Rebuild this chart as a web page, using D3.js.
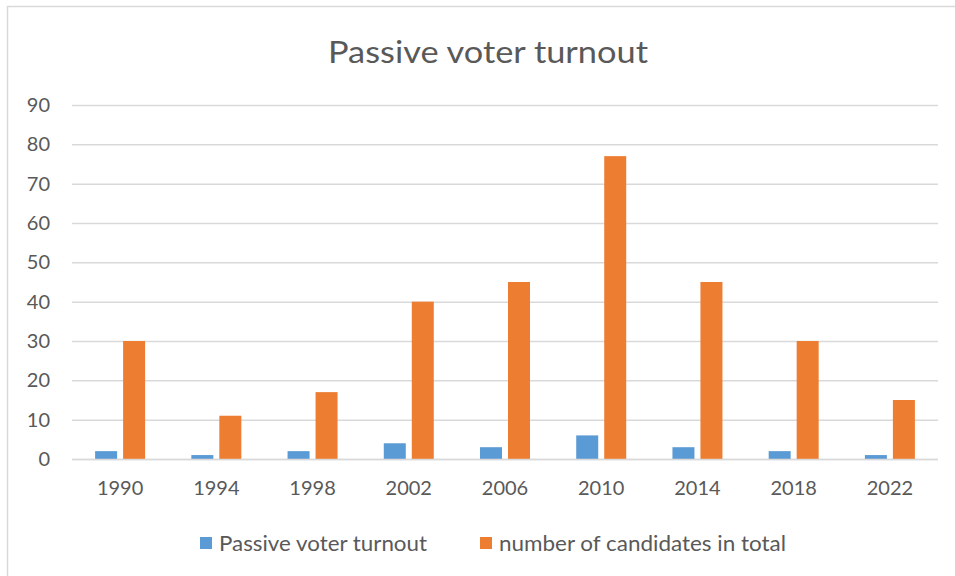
<!DOCTYPE html>
<html><head><meta charset="utf-8">
<script src="https://cdn.jsdelivr.net/npm/d3@7"></script>
<style>body{margin:0;background:#fff}svg{display:block}text{font-family:Lato,"Open Sans",sans-serif;fill:#595959}</style>
</head><body><svg id="c" width="955" height="576"></svg>
<script>
const years = ["1990","1994","1998","2002","2006","2010","2014","2018","2022"];
const seriesNames = ["Passive voter turnout","number of candidates in total"];
const passive = [2,1,2,4,3,6,3,2,1];
const candidates = [30,11,17,40,45,77,45,30,15];
const yTicks = [0,10,20,30,40,50,60,70,80,90];
const colors = ["#5B9BD5","#ED7D31"];

(function(){
const svg = d3.select("#c");
svg.append("rect").attr("x",7.5).attr("y",6.5).attr("width",960).attr("height",600)
  .attr("fill","none").attr("stroke","#D9D9D9").attr("stroke-width",1.5);

svg.append("text").attr("x",328).attr("y",63)
  .style("font-size","30px").attr("textLength",320).attr("lengthAdjust","spacingAndGlyphs")
  .text("Passive voter turnout");

const pLeft=72,pRight=938,pTop=105,pBottom=459;
const y = d3.scaleLinear().domain([0,90]).range([pBottom,pTop]);
const x0 = d3.scaleBand().domain(years).range([pLeft,pRight]);
const x1 = d3.scaleBand().domain(seriesNames).range([0,50]).paddingInner(2-50/28);
const off = (x0.bandwidth()-50)/2;

const yAxis = d3.axisLeft(y).tickValues(yTicks).tickSize(-(pRight-pLeft)).tickPadding(22);
const ga = svg.append("g").attr("transform",`translate(${pLeft},0)`).call(yAxis);
ga.select(".domain").remove();
ga.selectAll(".tick line").attr("stroke","#D9D9D9").attr("stroke-width",1.5);
ga.selectAll(".tick text").style("font-size","20px").attr("fill","#595959");

const xAxis = d3.axisBottom(x0).tickSize(0).tickPadding(22);
const gx = svg.append("g").attr("transform",`translate(0,${pBottom})`).call(xAxis);
gx.select(".domain").remove();
gx.selectAll(".tick text").style("font-size","20px").attr("fill","#595959");

const data = [passive,candidates];
data.forEach((vals,si)=>{
  svg.append("g").selectAll("rect").data(vals).join("rect")
    .attr("x",(d,i)=>x0(years[i])+off+x1(seriesNames[si]))
    .attr("width",x1.bandwidth())
    .attr("y",d=>y(d)).attr("height",d=>pBottom-y(d))
    .attr("fill",colors[si]);
});
svg.append("line").attr("x1",pLeft).attr("x2",pRight).attr("y1",pBottom+0.5).attr("y2",pBottom+0.5)
  .attr("stroke","#D9D9D9").attr("stroke-width",1.5);

const legX = [200,480];
const legW = [208,287];
seriesNames.forEach((n,i)=>{
  svg.append("rect").attr("x",legX[i]).attr("y",537).attr("width",12).attr("height",12).attr("fill",colors[i]);
  svg.append("text").attr("x",legX[i]+19).attr("y",551).style("font-size","21px")
    .attr("textLength",legW[i]).attr("lengthAdjust","spacingAndGlyphs").text(n);
});
})();
</script></body></html>
